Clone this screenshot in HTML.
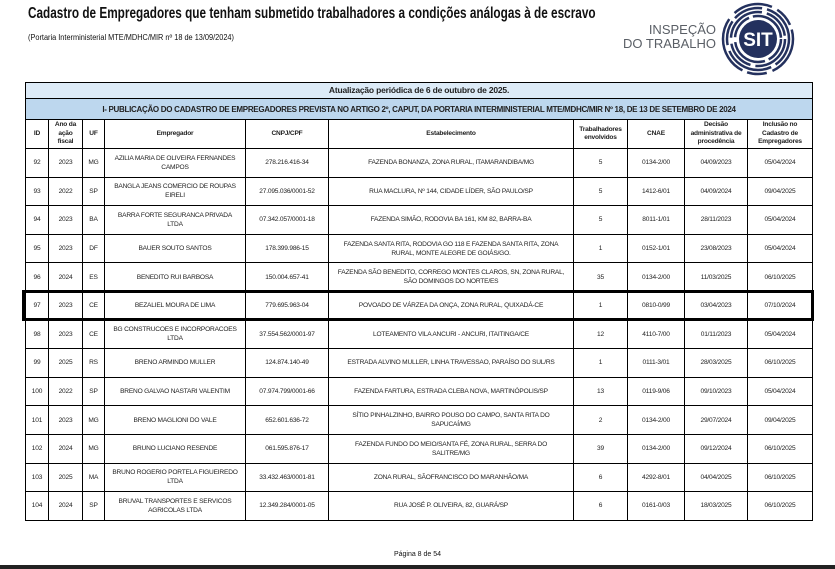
<!DOCTYPE html>
<html><head><meta charset="utf-8">
<style>
body{margin:0;width:835px;height:569px;background:#fff;position:relative;overflow:hidden;font-family:"Liberation Sans",sans-serif;color:#111}
.t1{position:absolute;left:28px;top:5px;font-size:15.5px;font-weight:bold;white-space:nowrap;transform:scaleX(0.76);transform-origin:left top}
.t2{position:absolute;left:28px;top:33px;font-size:8px;white-space:nowrap;transform:scaleX(0.92);transform-origin:left top}
.insp{position:absolute;left:606px;top:23px;font-size:13px;line-height:14px;color:#5a5f66;text-align:right;width:110px;white-space:nowrap}
table{position:absolute;left:25px;top:82px;width:787px;border-collapse:collapse;table-layout:fixed}
td{border:1px solid #000;text-align:center;vertical-align:middle;font-size:6.6px;line-height:9px;padding:0 4px;overflow:hidden;color:#222;letter-spacing:-0.2px}
td.e{padding:0 8px}
tr.d td{height:27.6px}
tr.h td{height:28px;font-weight:bold;font-size:6.6px;line-height:8.5px;padding:0 1px}
.r1 td{background:#ddebf7;height:15px;font-weight:bold;font-size:8.5px}
.r2 td{background:#bdd7ee;height:20px;font-weight:bold;font-size:8px;letter-spacing:-0.3px}
.box{position:absolute;left:22px;top:290px;width:786px;height:25px;border:3px solid #000}
.pg{position:absolute;left:0;width:835px;top:551px;text-align:center;font-size:7px}
.bar{position:absolute;left:0;top:565px;width:835px;height:4px;background:#222}
</style></head><body>
<div class="t1">Cadastro de Empregadores que tenham submetido trabalhadores a condições análogas à de escravo</div>
<div class="t2">(Portaria Interministerial MTE/MDHC/MIR nº 18 de 13/09/2024)</div>
<div class="insp">INSPEÇÃO<br>DO TRABALHO</div>
<svg style="position:absolute;left:720px;top:1px" width="76" height="76" viewBox="0 0 76 76">
<g fill="none" stroke="#24315e">
<circle cx="38" cy="38" r="35" stroke-width="2.5" stroke-dasharray="40 6 20 5 60 8"/>
<circle cx="38" cy="38" r="31" stroke-width="2.5" stroke-dasharray="30 5 50 6 25 4"/>
<circle cx="38" cy="38" r="27" stroke-width="2.5" stroke-dasharray="45 5 30 6"/>
<circle cx="38" cy="38" r="23" stroke-width="2.5" stroke-dasharray="25 4 40 5"/>
</g>
<circle cx="38" cy="38" r="19" fill="#24315e"/>
<text x="38" y="45" text-anchor="middle" font-family="Liberation Sans" font-weight="bold" font-size="19" fill="#fff">SIT</text>
</svg>
<table>
<colgroup><col style="width:23px"><col style="width:34px"><col style="width:22px"><col style="width:141px"><col style="width:83px"><col style="width:245px"><col style="width:54px"><col style="width:57px"><col style="width:63px"><col style="width:65px"></colgroup>
<tr class="r1"><td colspan="10">Atualização periódica de 6 de outubro de 2025.</td></tr>
<tr class="r2"><td colspan="10">I- PUBLICAÇÃO DO CADASTRO DE EMPREGADORES PREVISTA NO ARTIGO 2º, CAPUT, DA PORTARIA INTERMINISTERIAL MTE/MDHC/MIR Nº 18, DE 13 DE SETEMBRO DE 2024</td></tr>
<tr class="h"><td>ID</td><td>Ano da ação fiscal</td><td>UF</td><td>Empregador</td><td>CNPJ/CPF</td><td>Estabelecimento</td><td>Trabalhadores envolvidos</td><td>CNAE</td><td>Decisão administrativa de procedência</td><td>Inclusão no Cadastro de Empregadores</td></tr>
<tr class="d"><td>92</td><td>2023</td><td>MG</td><td>AZILIA MARIA DE OLIVEIRA FERNANDES CAMPOS</td><td>278.216.416-34</td><td class="e">FAZENDA BONANZA, ZONA RURAL, ITAMARANDIBA/MG</td><td>5</td><td>0134-2/00</td><td>04/09/2023</td><td>05/04/2024</td></tr>
<tr class="d"><td>93</td><td>2022</td><td>SP</td><td>BANGLA JEANS COMERCIO DE ROUPAS EIRELI</td><td>27.095.036/0001-52</td><td class="e">RUA MACLURA, Nº 144, CIDADE LÍDER, SÃO PAULO/SP</td><td>5</td><td>1412-6/01</td><td>04/09/2024</td><td>09/04/2025</td></tr>
<tr class="d"><td>94</td><td>2023</td><td>BA</td><td>BARRA FORTE SEGURANCA PRIVADA<br>LTDA</td><td>07.342.057/0001-18</td><td class="e">FAZENDA SIMÃO, RODOVIA BA 161, KM 82, BARRA-BA</td><td>5</td><td>8011-1/01</td><td>28/11/2023</td><td>05/04/2024</td></tr>
<tr class="d"><td>95</td><td>2023</td><td>DF</td><td>BAUER SOUTO SANTOS</td><td>178.399.986-15</td><td class="e">FAZENDA SANTA RITA, RODOVIA GO 118 E FAZENDA SANTA RITA, ZONA RURAL, MONTE ALEGRE DE GOIÁS/GO.</td><td>1</td><td>0152-1/01</td><td>23/08/2023</td><td>05/04/2024</td></tr>
<tr class="d"><td>96</td><td>2024</td><td>ES</td><td>BENEDITO RUI BARBOSA</td><td>150.004.657-41</td><td class="e">FAZENDA SÃO BENEDITO, CORREGO MONTES CLAROS, SN, ZONA RURAL, SÃO DOMINGOS DO NORTE/ES</td><td>35</td><td>0134-2/00</td><td>11/03/2025</td><td>06/10/2025</td></tr>
<tr class="d"><td>97</td><td>2023</td><td>CE</td><td>BEZALIEL MOURA DE LIMA</td><td>779.695.963-04</td><td class="e">POVOADO DE VÁRZEA DA ONÇA, ZONA RURAL, QUIXADÁ-CE</td><td>1</td><td>0810-0/99</td><td>03/04/2023</td><td>07/10/2024</td></tr>
<tr class="d"><td>98</td><td>2023</td><td>CE</td><td>BG CONSTRUCOES E INCORPORACOES LTDA</td><td>37.554.562/0001-97</td><td class="e">LOTEAMENTO VILA ANCURI - ANCURI, ITAITINGA/CE</td><td>12</td><td>4110-7/00</td><td>01/11/2023</td><td>05/04/2024</td></tr>
<tr class="d"><td>99</td><td>2025</td><td>RS</td><td>BRENO ARMINDO MULLER</td><td>124.874.140-49</td><td class="e">ESTRADA ALVINO MULLER, LINHA TRAVESSAO, PARAÍSO DO SUL/RS</td><td>1</td><td>0111-3/01</td><td>28/03/2025</td><td>06/10/2025</td></tr>
<tr class="d"><td>100</td><td>2022</td><td>SP</td><td>BRENO GALVAO NASTARI VALENTIM</td><td>07.974.799/0001-66</td><td class="e">FAZENDA FARTURA, ESTRADA CLEBA NOVA, MARTINÓPOLIS/SP</td><td>13</td><td>0119-9/06</td><td>09/10/2023</td><td>05/04/2024</td></tr>
<tr class="d"><td>101</td><td>2023</td><td>MG</td><td>BRENO MAGLIONI DO VALE</td><td>652.601.636-72</td><td class="e">SÍTIO PINHALZINHO, BAIRRO POUSO DO CAMPO, SANTA RITA DO SAPUCAÍ/MG</td><td>2</td><td>0134-2/00</td><td>29/07/2024</td><td>09/04/2025</td></tr>
<tr class="d"><td>102</td><td>2024</td><td>MG</td><td>BRUNO LUCIANO RESENDE</td><td>061.595.876-17</td><td class="e">FAZENDA FUNDO DO MEIO/SANTA FÉ, ZONA RURAL, SERRA DO SALITRE/MG</td><td>39</td><td>0134-2/00</td><td>09/12/2024</td><td>06/10/2025</td></tr>
<tr class="d"><td>103</td><td>2025</td><td>MA</td><td>BRUNO ROGERIO PORTELA FIGUEIREDO LTDA</td><td>33.432.463/0001-81</td><td class="e">ZONA RURAL, SÃOFRANCISCO DO MARANHÃO/MA</td><td>6</td><td>4292-8/01</td><td>04/04/2025</td><td>06/10/2025</td></tr>
<tr class="d"><td>104</td><td>2024</td><td>SP</td><td>BRUVAL TRANSPORTES E SERVICOS AGRICOLAS LTDA</td><td>12.349.284/0001-05</td><td class="e">RUA JOSÉ P. OLIVEIRA, 82, GUARÁ/SP</td><td>6</td><td>0161-0/03</td><td>18/03/2025</td><td>06/10/2025</td></tr>
</table>
<div class="box"></div>
<div class="pg">Página 8 de 54</div>
<div class="bar"></div>
</body></html>
